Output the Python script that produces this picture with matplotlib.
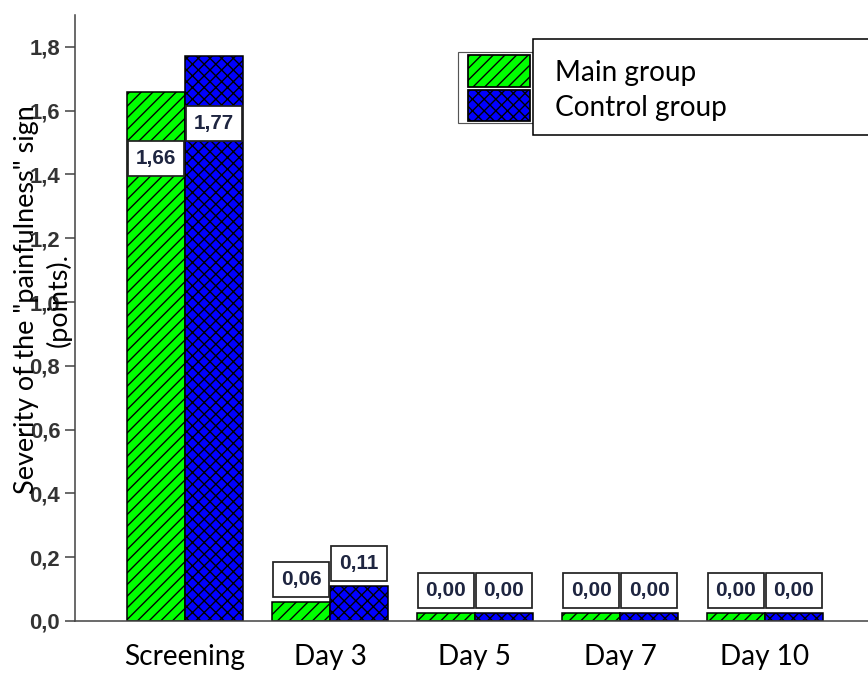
import numpy as np
import matplotlib
matplotlib.use("Agg")
import matplotlib.pyplot as plt
from matplotlib.patches import Rectangle

# data
categories = ["Screening", "Day 3", "Day 5", "Day 7", "Day 10"]
main_group = [1.66, 0.06, 0.00, 0.00, 0.00]
control_group = [1.77, 0.11, 0.00, 0.00, 0.00]
series_names = ["Main group", "Control group"]
y_ticks = [0.0, 0.2, 0.4, 0.6, 0.8, 1.0, 1.2, 1.4, 1.6, 1.8]

W, H, DPI = 868, 674, 140
plt.rcParams['hatch.linewidth'] = 0.7

fig = plt.figure(figsize=(W / DPI, H / DPI), dpi=DPI)
# axes placed in pixels: left spine at x=75, zero line at y=621, top at y=15
ax = fig.add_axes([75 / W, 1 - 621 / H, 1 - 75 / W, (621 - 15) / H])

x = np.arange(len(categories))
w = 0.4
min_vis = 0.025  # zero bars are still drawn as a thin strip

def fmt(v):
    return f"{v:.2f}".replace(".", ",")

series = [main_group, control_group]
colors = ["#00ff00", "#0000ff"]
hatches = ["////", "xxxx"]
offsets = [-w / 2, w / 2]
for vals, col, hat, off in zip(series, colors, hatches, offsets):
    heights = [max(v, min_vis) for v in vals]
    ax.bar(x + off, heights, w, color=col, edgecolor="black", hatch=hat,
           linewidth=0.8, zorder=2)
    for xi, v, h in zip(x, vals, heights):
        ty = v - 0.21 if v > 1 else h + 0.07
        ax.text(xi + off, ty, fmt(v), ha="center", va="center",
                fontsize=10.6, fontweight="bold", family="Liberation Sans",
                color="#1e2540", zorder=4,
                bbox=dict(boxstyle="square,pad=0.38", facecolor="white",
                          edgecolor="#222222", linewidth=0.9))

ax.set_xlim(-(185 - 75) / 145, (868 - 185) / 145)
ax.set_ylim(0, 1.90)
ax.set_yticks(y_ticks)
ax.set_yticklabels([f"{t:.1f}".replace(".", ",") for t in y_ticks],
                   fontsize=11.4, fontweight="bold", family="Liberation Sans",
                   color="#333333")
ax.set_xticks(x)
ax.set_xticklabels(categories, fontsize=14.4, family="Lato")
ax.tick_params(axis="x", length=0, pad=12)
ax.tick_params(axis="y", length=5.1, width=0.8, color="#444444", pad=2.5)

for s in ["top", "right"]:
    ax.spines[s].set_visible(False)
for s in ["left", "bottom"]:
    ax.spines[s].set_color("#444444")
    ax.spines[s].set_linewidth(0.8)

fig.text(43 / W, 1 - 300 / H, "Severity of the \"painfulness\" sign\n(points).",
         rotation=90, ha="center", va="center", fontsize=13.9, family="Lato",
         linespacing=1.3, multialignment="center", zorder=5)

# legend drawn by hand: handle frame on the left, white box with the names
def px_rect(x0, y0, x1, y1, **kw):
    r = Rectangle((x0 / W, 1 - y1 / H), (x1 - x0) / W, (y1 - y0) / H,
                  transform=fig.transFigure, **kw)
    fig.patches.append(r)

px_rect(458, 52, 533, 123, facecolor="white", edgecolor="#555555", linewidth=0.6)
px_rect(468, 55, 530, 87, facecolor=colors[0], edgecolor="black",
        hatch=hatches[0], linewidth=0.9)
px_rect(468, 90, 530, 121, facecolor=colors[1], edgecolor="black",
        hatch=hatches[1], linewidth=0.9)
px_rect(533, 39, 875, 135, facecolor="white", edgecolor="black", linewidth=0.8)
fig.text(555 / W, 1 - 73 / H, series_names[0], va="center", fontsize=14.4, family="Lato")
fig.text(555 / W, 1 - 108 / H, series_names[1], va="center", fontsize=14.4, family="Lato")

fig.savefig("out.png", dpi=DPI)
